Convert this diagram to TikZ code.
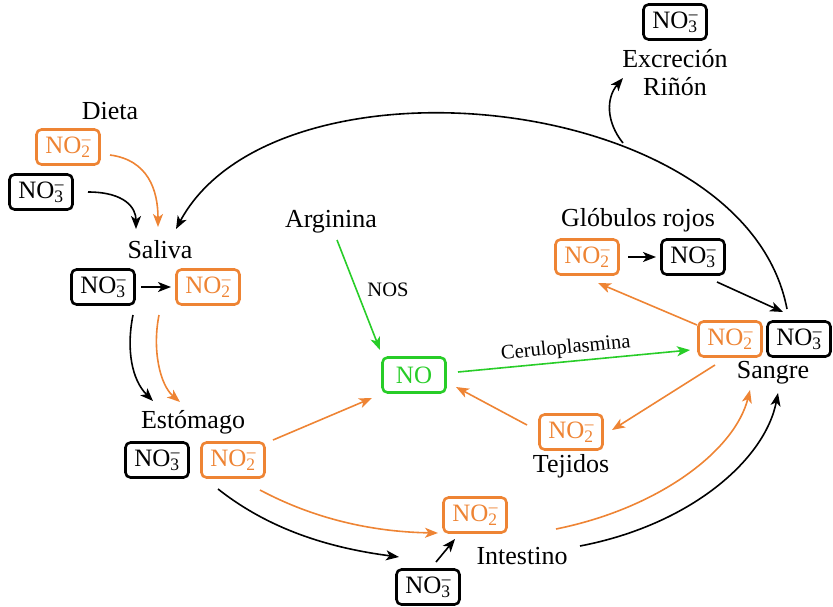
\documentclass[tikz,border=0pt]{standalone}
\usepackage{fontspec}
\setmainfont{Liberation Serif}
\usetikzlibrary{arrows.meta,calc}
\definecolor{myorange}{RGB}{238,132,52}
\definecolor{mygreen}{RGB}{40,205,40}
\newcommand{\ionx}[1]{NO\rlap{\textsuperscript{\kern0.5pt--}}\textsubscript{#1}}
\tikzset{
  lbl/.style={font=\fontsize{26}{28}\selectfont, inner sep=1pt},
  small/.style={font=\fontsize{20.5}{22}\selectfont, inner sep=1pt},
  box/.style={draw, rounded corners=5pt, line width=2.6pt, inner sep=1.5pt,
    minimum width=63pt, minimum height=35pt, font=\fontsize{25}{27}\selectfont},
  obox/.style={box, draw=myorange, text=myorange},
  bbox/.style={box, draw=black, text=black},
  gbox/.style={box, draw=mygreen, text=mygreen},
  arr/.style={-{Stealth[length=13pt,width=10pt,inset=3.5pt]}, line width=1.6pt},
  oarr/.style={arr, draw=myorange},
  garr/.style={arr, draw=mygreen},
}
\begin{document}
\begin{tikzpicture}[x=1pt,y=-1pt]
\useasboundingbox (0,0) rectangle (833,606);
% nodes
\node[lbl] (dieta) at (110,111) {Dieta};
\node[obox] (dno2) at (68,147) {\ionx2};
\node[bbox] (dno3) at (41,192) {\ionx3};
\node[lbl] (saliva) at (160,250) {Saliva};
\node[bbox] (sno3) at (103,287) {\ionx3};
\node[obox] (sno2) at (208,287) {\ionx2};
\node[lbl] (esto) at (193,422) {Estómago};
\node[bbox] (eno3) at (157,460) {\ionx3};
\node[obox] (eno2) at (233,460) {\ionx2};
\node[bbox] (ino3) at (428,587) {\ionx3};
\node[obox] (ino2) at (475,515) {\ionx2};
\node[lbl] (intes) at (522,556) {Intestino};
\node[gbox] (no) at (414,375) {NO};
\node[lbl] (argi) at (331,222) {Arginina};
\node[small] (nos) at (388,290) {NOS};
\node[obox] (tno2) at (571,432) {\ionx2};
\node[lbl] (teji) at (571,466) {Tejidos};
\node[lbl] (glob) at (638,220) {Glóbulos rojos};
\node[obox] (gno2) at (587,257) {\ionx2};
\node[bbox] (gno3) at (693,257) {\ionx3};
\node[obox] (bno2) at (730,339) {\ionx2};
\node[bbox] (bno3) at (799,339) {\ionx3};
\node[lbl] (sangre) at (773,373) {Sangre};
\node[bbox] (xno3) at (675,22) {\ionx3};
\node[lbl, align=center] (excr) at (675,73) {Excreción\\Riñón};
% coordinates on the big arc
\coordinate (arcstart) at (787,309);
\coordinate (arcend) at (176,229);
\coordinate (branch) at (623,143);
% big arc
\draw[arr] (arcstart) .. controls (745,90) and (275,45) .. (arcend);
\draw[arr] (branch) .. controls (606,122) and (606,98) .. (623,78);
% Dieta
\draw[oarr] (110,155) .. controls (148,160) and (158,190) .. (158,227);
\draw[arr] (88,192) .. controls (125,192) and (136,208) .. (136,229);
% Saliva
\draw[arr] (141,287) -- (171,287);
\draw[arr] (133,315) .. controls (126,350) and (132,380) .. (153,401);
\draw[oarr] (159,315) .. controls (152,350) and (160,385) .. (180,402);
% Estomago
\draw[oarr] (273,440) -- (372,398);
\draw[arr] (218,489) .. controls (270,530) and (330,548) .. (399,557);
\draw[oarr] (260,490) .. controls (320,522) and (380,532) .. (438,533);
% Intestino
\draw[arr] (436,562) -- (455,539);
\draw[oarr] (556,529) .. controls (660,508) and (735,450) .. (750,390);
\draw[arr] (580,546) .. controls (690,525) and (765,460) .. (778,393);
% NO
\draw[garr] (337,240) -- (380,350);
\draw[garr] (458,372) -- node[small, above, sloped, pos=0.47, yshift=2pt] (cerul) {Ceruloplasmina} (690,350);
\draw[oarr] (527,425) -- (456,387);
% Sangre
\draw[oarr] (715,365) -- (612,430);
\draw[oarr] (697,325) -- (598,283);
\draw[arr] (628,257) -- (656,257);
\draw[arr] (717,282) -- (783,312);
\end{tikzpicture}
\end{document}
